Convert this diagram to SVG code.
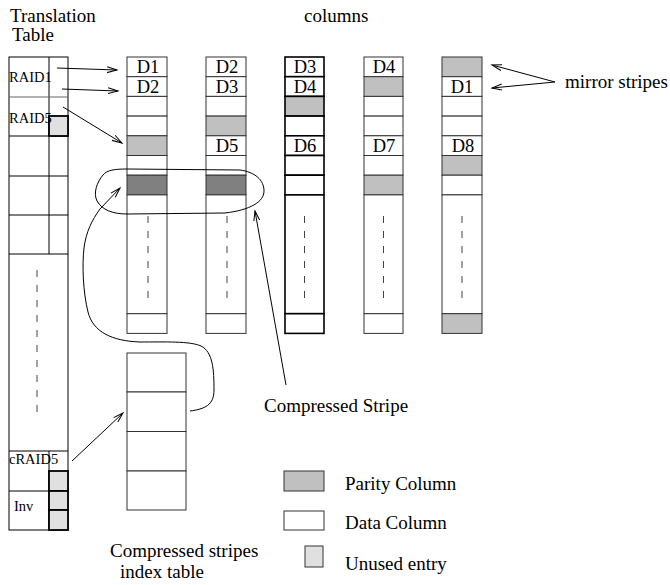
<svg xmlns="http://www.w3.org/2000/svg" width="670" height="585" viewBox="0 0 670 585">
<defs>
<marker id="ah" markerUnits="userSpaceOnUse" markerWidth="12" markerHeight="8" refX="10" refY="4" orient="auto">
<path d="M0,1 L10,4 L0,7" fill="none" stroke="#000" stroke-width="1"/>
</marker>
</defs>
<style>
text{font-family:"Liberation Serif","Times New Roman",serif;fill:#000}
.big{font-size:19px}
.lbl{font-size:14.5px}
.d{font-size:18.5px;text-anchor:middle}
.c{fill:#fff;stroke:#333;stroke-width:1}
.ct{fill:#fff;stroke:#000;stroke-width:1.6}
.p{fill:#c0c0c0;stroke:#333;stroke-width:1}
.pt{fill:#c0c0c0;stroke:#000;stroke-width:1.6}
.k{fill:#808080;stroke:#333;stroke-width:1}
.u{fill:#e0e0e0;stroke:#000;stroke-width:1.8}
.t{fill:none;stroke:#000;stroke-width:1}
.dash{stroke:#444;stroke-width:1;stroke-dasharray:7 8}
.ln{fill:none;stroke:#000;stroke-width:1}
</style>

<text class="big" x="10" y="22">Translation</text>
<text class="big" x="12" y="41">Table</text>
<text class="big" x="304" y="22">columns</text>

<g id="translation-table">
<rect x="9" y="57" width="59" height="473" fill="#fff" stroke="#000" stroke-width="1"/>
<line x1="49" y1="57" x2="49" y2="254" class="t"/>
<line x1="49" y1="451" x2="49" y2="530" class="t"/>
<line x1="9" y1="97" x2="68" y2="97" stroke="#666" stroke-width="1"/>
<line x1="9" y1="136" x2="68" y2="136" class="t"/>
<line x1="9" y1="176" x2="68" y2="176" class="t"/>
<line x1="9" y1="215" x2="68" y2="215" class="t"/>
<line x1="9" y1="254" x2="68" y2="254" class="t"/>
<line x1="9" y1="451" x2="68" y2="451" class="t"/>
<line x1="9" y1="491" x2="49" y2="491" class="t"/>
<rect x="49" y="116" width="19" height="20" class="u" stroke-width="1.3"/>
<rect x="49" y="471" width="19" height="20" class="u"/>
<rect x="49" y="491" width="19" height="19" class="u"/>
<rect x="49" y="510" width="19" height="20" class="u"/>
<line x1="37" y1="270" x2="37" y2="415" class="dash" stroke-dasharray="10 9"/>
<text class="lbl" x="9" y="82">RAID1</text>
<text class="lbl" x="9" y="123">RAID5</text>
<text class="lbl" x="9" y="464">cRAID5</text>
<text class="lbl" x="14" y="511">Inv</text>
</g>

<g id="column-1">
<rect x="127" y="57" width="40" height="19.7" class="c"/>
<rect x="127" y="76.7" width="40" height="19.7" class="c"/>
<rect x="127" y="96.4" width="40" height="19.7" class="c"/>
<rect x="127" y="116.1" width="40" height="19.7" class="c"/>
<rect x="127" y="135.8" width="40" height="19.7" class="p"/>
<rect x="127" y="155.5" width="40" height="19.7" class="c"/>
<rect x="127" y="175.2" width="40" height="19.7" class="k"/>
<rect x="127" y="194.9" width="40" height="118.8" class="c"/>
<rect x="127" y="313.7" width="40" height="19.7" class="c"/>
<line x1="148" y1="216" x2="148" y2="298" class="dash"/>
<text class="d" x="148" y="73">D1</text>
<text class="d" x="148" y="93">D2</text>
</g>

<g id="column-2">
<rect x="206" y="57" width="40" height="19.7" class="c"/>
<rect x="206" y="76.7" width="40" height="19.7" class="c"/>
<rect x="206" y="96.4" width="40" height="19.7" class="c"/>
<rect x="206" y="116.1" width="40" height="19.7" class="p"/>
<rect x="206" y="135.8" width="40" height="19.7" class="c"/>
<rect x="206" y="155.5" width="40" height="19.7" class="c"/>
<rect x="206" y="175.2" width="40" height="19.7" class="k"/>
<rect x="206" y="194.9" width="40" height="118.8" class="c"/>
<rect x="206" y="313.7" width="40" height="19.7" class="c"/>
<line x1="227" y1="216" x2="227" y2="298" class="dash"/>
<text class="d" x="227" y="73">D2</text>
<text class="d" x="227" y="93">D3</text>
<text class="d" x="227" y="152">D5</text>
</g>

<g id="column-3">
<rect x="285" y="57" width="39" height="19.7" class="ct"/>
<rect x="285" y="76.7" width="39" height="19.7" class="ct"/>
<rect x="285" y="96.4" width="39" height="19.7" class="pt"/>
<rect x="285" y="116.1" width="39" height="19.7" class="ct"/>
<rect x="285" y="135.8" width="39" height="19.7" class="ct"/>
<rect x="285" y="155.5" width="39" height="19.7" class="ct"/>
<rect x="285" y="175.2" width="39" height="19.7" class="ct"/>
<rect x="285" y="194.9" width="39" height="118.8" class="ct"/>
<rect x="285" y="313.7" width="39" height="19.7" class="ct"/>
<line x1="304.5" y1="216" x2="304.5" y2="298" class="dash"/>
<text class="d" x="305" y="73">D3</text>
<text class="d" x="305" y="93">D4</text>
<text class="d" x="305" y="152">D6</text>
</g>

<g id="column-4">
<rect x="364" y="57" width="39" height="19.7" class="c"/>
<rect x="364" y="76.7" width="39" height="19.7" class="p"/>
<rect x="364" y="96.4" width="39" height="19.7" class="c"/>
<rect x="364" y="116.1" width="39" height="19.7" class="c"/>
<rect x="364" y="135.8" width="39" height="19.7" class="c"/>
<rect x="364" y="155.5" width="39" height="19.7" class="c"/>
<rect x="364" y="175.2" width="39" height="19.7" class="p"/>
<rect x="364" y="194.9" width="39" height="118.8" class="c"/>
<rect x="364" y="313.7" width="39" height="19.7" class="c"/>
<line x1="383.5" y1="216" x2="383.5" y2="298" class="dash"/>
<text class="d" x="384" y="73">D4</text>
<text class="d" x="384" y="152">D7</text>
</g>

<g id="column-5">
<rect x="442" y="57" width="40" height="19.7" class="p"/>
<rect x="442" y="76.7" width="40" height="19.7" class="c"/>
<rect x="442" y="96.4" width="40" height="19.7" class="c"/>
<rect x="442" y="116.1" width="40" height="19.7" class="c"/>
<rect x="442" y="135.8" width="40" height="19.7" class="c"/>
<rect x="442" y="155.5" width="40" height="19.7" class="p"/>
<rect x="442" y="175.2" width="40" height="19.7" class="c"/>
<rect x="442" y="194.9" width="40" height="118.8" class="c"/>
<rect x="442" y="313.7" width="40" height="19.7" class="p"/>
<line x1="462" y1="216" x2="462" y2="298" class="dash"/>
<text class="d" x="462" y="93">D1</text>
<text class="d" x="463" y="152">D8</text>
</g>

<g id="index-table">
<rect x="127" y="353" width="59" height="39" class="c" stroke="#000"/>
<rect x="127" y="392" width="59" height="39.5" class="c" stroke="#000"/>
<rect x="127" y="431.5" width="59" height="39.5" class="c" stroke="#000"/>
<rect x="127" y="471" width="59" height="39" class="c" stroke="#000"/>
<text class="big" x="110" y="557">Compressed stripes</text>
<text class="big" x="120" y="578">index table</text>
</g>

<g id="compressed-stripe">
<path class="ln" d="M127,214 C113,214 102,210 97,201 C93,193 97,182 103,175 C107,170 115,169 127,169 L240,170 C255,172 264,180 264,191 C264,202 250,210 225,213 Z"/>
<text class="big" x="264" y="412">Compressed Stripe</text>
</g>

<g id="mirror-stripes-label">
<text class="big" x="565" y="88">mirror stripes</text>
</g>

<g id="legend">
<rect x="284" y="471" width="40" height="20" class="p"/>
<text class="big" x="345" y="490">Parity Column</text>
<rect x="284" y="511" width="40" height="19" class="c"/>
<text class="big" x="345" y="529">Data Column</text>
<rect x="305" y="546" width="18" height="21" fill="#e0e0e0" stroke="#333" stroke-width="1"/>
<text class="big" x="345" y="570">Unused entry</text>
</g>

<g id="connectors">
<line class="ln" x1="57" y1="68" x2="117" y2="70" marker-end="url(#ah)"/>
<line class="ln" x1="62" y1="89" x2="118" y2="91" marker-end="url(#ah)"/>
<line class="ln" x1="63" y1="107" x2="122" y2="143" marker-end="url(#ah)"/>
<line class="ln" x1="72" y1="461" x2="123" y2="413" marker-end="url(#ah)"/>
<line class="ln" x1="555" y1="82" x2="492" y2="65" marker-end="url(#ah)"/>
<line class="ln" x1="555" y1="82" x2="492" y2="88" marker-end="url(#ah)"/>
<line class="ln" x1="286" y1="385" x2="255" y2="211" marker-end="url(#ah)"/>
<path class="ln" d="M190,411 C205,409 214,405 214,390 C214,370 213,352 201,346 C190,341 165,342 140,342 C112,341 93,332 88,312 C83,292 82,265 84,248 C86,232 92,220 100,209 L120,188" marker-end="url(#ah)"/>
</g>
</svg>
